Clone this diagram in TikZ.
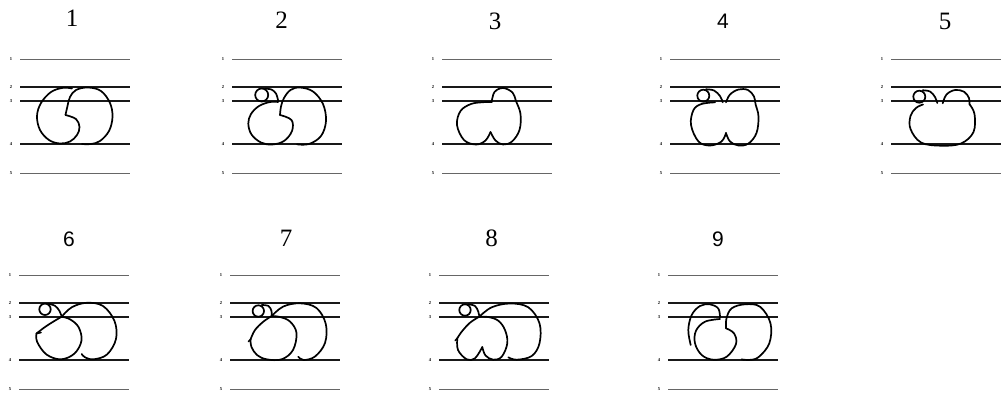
\documentclass[tikz,border=0pt]{standalone}
\usepackage{fontspec}
\setmainfont{Liberation Serif}
\newfontfamily\numsans{Liberation Sans}
\tikzset{
  guidedark/.style={draw=black!90, line width=1.05pt},
  guidefaint/.style={draw=black!60, line width=0.95pt},
  glyph/.style={draw=black, line width=1.7pt, line cap=round, line join=round},
  tinylab/.style={font=\fontsize{4.5}{5}\selectfont\bfseries, inner sep=0pt, text=black},
  numserif/.style={font=\fontsize{25}{25}\selectfont, inner sep=0pt},
  numsansf/.style={font=\numsans\fontsize{21}{21}\selectfont, inner sep=0pt},
}
\newcommand\guides[1]{%
  \draw[guidefaint] (0,0) -- (110,0);
  \draw[guidedark] (0,28) -- (110,28);
  \draw[guidedark] (0,42) -- (110,42);
  \draw[guidedark] (0,85) -- (110,85);
  \draw[guidefaint] (0,114) -- (110,114);
  \node[tinylab] (#1a) at (-9,0) {1};
  \node[tinylab] (#1b) at (-9,28) {2};
  \node[tinylab] (#1c) at (-9,42) {3};
  \node[tinylab] (#1d) at (-9,85) {4};
  \node[tinylab] (#1e) at (-9,114) {5};
}
\newcommand\strk[1]{\draw[glyph] plot[smooth, tension=0.6] coordinates {#1};}
\begin{document}
\begin{tikzpicture}[x=1pt,y=-1pt]
\fill[white] (0,0) rectangle (1004,392);
\useasboundingbox (0,0) rectangle (1004,392);

% ---------- Panel 1
\begin{scope}[shift={(20,59)}]
\guides{pa}
\node[numserif] (n1) at (52,-40.3) {1};
\strk{(52,29.5) (43,28.8) (31,33) (21,44) (17,57) (20,71) (29,81) (40,84.5) (50,82.5) (57,76) (59.5,68) (56,60) (45.5,56)}
\strk{(45.5,56) (47.5,47) (50,38) (56,31) (68,28.5) (81,32) (90,44) (92.5,58) (89,72) (80,82) (71,85) (62,85)}
\end{scope}

% ---------- Panel 2
\begin{scope}[shift={(232,59)}]
\guides{pb}
\node[numserif] (n2) at (49.7,-39) {2};
\draw[glyph] (29.7,36) circle[radius=6.5pt];
\strk{(33,29.8) (39,30.3) (44,34.5) (46.3,42.5)}
\strk{(46,43) (38,43) (27,47) (19,55) (16.3,64.5) (19.5,75.5) (29,83.5) (40,85.5) (52,82) (60,72) (59.5,61) (48,56)}
\strk{(48,56) (49,47.5) (52,39) (58.5,31) (68,28.5) (81,32.5) (91,45) (94,62) (89,77) (77,85) (65,85.3)}
\end{scope}

% ---------- Panel 3
\begin{scope}[shift={(442,59)}]
\guides{pc}
\node[numserif] (n3) at (53,-38) {3};
\strk{(49.7,43) (52.5,33) (61,29) (70.5,33.5) (74,42) (78.5,55) (77.5,71) (70,82.5) (61,85.5) (53.5,81.5) (48.5,73)}
\strk{(48.5,73) (43.5,81.5) (34,85.5) (22,81) (15,66) (18.5,52) (29,45) (41,43.2) (49.7,43)}
\end{scope}

% ---------- Panel 4
\begin{scope}[shift={(670,59)}]
\guides{pd}
\node[numsansf] (n4) at (53,-38) {4};
\draw[glyph] (33.3,36.7) circle[radius=6pt];
\strk{(36,30.3) (44,31.5) (50,37) (52.7,43.3)}
\strk{(56,43.3) (60,35.5) (68.5,30.5) (78,31) (84,37.5) (85.5,45) (88.5,57.5) (86.5,74) (78.5,84.5) (68.5,86.5) (60,82.5) (56,74)}
\strk{(56,74) (51.5,82.5) (40,86.5) (28.5,82.5) (21,66) (23.5,51) (31.5,45) (45,43.3)}
\end{scope}

% ---------- Panel 5
\begin{scope}[shift={(891,59)}]
\guides{pe}
\node[numserif] (n5) at (54,-37.3) {5};
\draw[glyph] (28.3,37.7) circle[radius=6pt];
\strk{(31.7,31.3) (39,32.5) (44,38) (46.3,44)}
\strk{(51.7,44.3) (55.5,35.5) (64,31) (73,32.7) (78,39) (78.5,45.3)}
\strk{(78.5,45.3) (83.5,55) (82.5,73) (70,84.5) (50,86.7) (30,83.5) (19.5,70) (19.5,57) (25,49) (32,45.5)}
\end{scope}

% ---------- Panel 6
\begin{scope}[shift={(19,275)}]
\guides{pf}
\node[numsansf] (n6) at (50,-36) {6};
\draw[glyph] (26,34.3) circle[radius=5.7pt];
\strk{(29.3,28.8) (36,30.8) (40.5,36) (42.7,41.7)}
\strk{(42.7,41.7) (34.5,46.5) (26,52) (17.5,58.5)}
\draw[glyph] (17.5,58.5) -- (22,57.5);
\strk{(17.5,58.5) (18.2,67) (27.5,79.5) (42,84.3) (55.5,78.5) (62.5,65.5) (59.5,52) (51,44.3) (42.7,41.7)}
\strk{(42.7,41.7) (52.7,32.3) (67.7,27.8) (84,31) (95.5,46) (97,64) (88,79.5) (74.5,84.3) (66,82.3) (62.7,79)}
\end{scope}

% ---------- Panel 7
\begin{scope}[shift={(230,275)}]
\guides{pg}
\node[numserif] (n7) at (56,-37) {7};
\draw[glyph] (28.3,36) circle[radius=5.7pt];
\strk{(31.7,30) (38.5,31) (41.5,36) (41.7,41)}
\strk{(41.7,41) (53.3,31.5) (70,28.3) (86.5,33) (95.8,49) (95,68) (85,81.5) (73.5,85) (68.3,81.7)}
\strk{(41.7,41) (33.3,46.7) (25,55) (20.5,64.5)}
\draw[glyph] (20.5,64.5) -- (18.5,66.5);
\strk{(20.5,64.5) (21.5,72) (27,80) (36.7,84.3) (51.7,84.3) (63,75) (66.5,58) (60,46.5) (50,42) (41.7,41)}
\end{scope}

% ---------- Panel 8
\begin{scope}[shift={(439,275)}]
\guides{ph}
\node[numserif] (n8) at (52.7,-37) {8};
\draw[glyph] (26,35) circle[radius=5.7pt];
\strk{(29.3,29.3) (36,31) (39.3,36.7) (40.3,41.7)}
\strk{(40.3,41.7) (52.7,32.3) (71,28.5) (89.3,32.3) (100.5,48.3) (100.5,68.3) (92.7,81) (77.7,84.7) (69.3,82.3)}
\strk{(40.3,41.7) (31,47.7) (22.7,56.7) (18.3,63.3)}
\draw[glyph] (18.3,63.3) -- (16.3,65.5);
\strk{(18.3,63.3) (19,75) (27.7,84.3) (36,83.3) (43.3,72)}
\strk{(43.3,72) (46.5,80.5) (54.3,84.7) (62.7,81.7) (68.3,68.3) (66,55) (59.3,45.7) (49.3,42) (40.3,41.7)}
\end{scope}

% ---------- Panel 9
\begin{scope}[shift={(668,275)}]
\guides{pi}
\node[numsansf] (n9) at (50,-36) {9};
\strk{(52,42.3) (50.3,33.5) (42,29.3) (32,31) (23.7,40) (20.3,55) (22.7,70)}
\strk{(52,44) (37,46.7) (28,55.7) (27,68.3) (33.7,80) (45.3,84.7) (58.7,81.7) (68,69) (66,58.3) (58,53.3)}
\strk{(58,53.3) (58.5,43.3) (63.7,33.3) (77,29.3) (92,31.7) (102.5,48.3) (101.3,68.3) (90.3,82.3) (80.3,85) (73.7,84.3)}
\end{scope}
\end{tikzpicture}
\end{document}
